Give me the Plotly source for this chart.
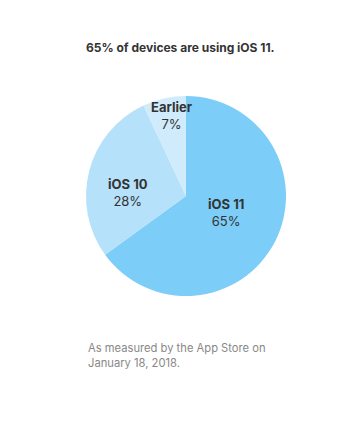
import plotly.graph_objects as go

labels = ["iOS 11", "iOS 10", "Earlier"]
values = [65, 28, 7]
colors = ["#7dcdf9", "#b6e1fa", "#d0ebfb"]
title_text = "65% of devices are using iOS 11."
footer_text = "As measured by the App Store on<br>January 18, 2018."

W, H = 356, 422
OFF = 8  # browser body margin offset

def px_x(x):
    return (x - OFF) / W

def px_y(y):
    return 1 - (y - OFF) / H

fig = go.Figure(go.Pie(
    labels=labels, values=values, sort=False, direction="clockwise", rotation=0,
    marker=dict(colors=colors, line=dict(width=0)),
    textinfo="none", hoverinfo="label+percent", showlegend=False,
    domain=dict(x=[px_x(86), px_x(286)], y=[px_y(296), px_y(96)]),
))

label_pos = {"iOS 11": (226, 213), "iOS 10": (128, 192), "Earlier": (172, 115)}
for lab, val in zip(labels, values):
    x, y = label_pos[lab]
    fig.add_annotation(
        x=px_x(x), y=px_y(y), xref="paper", yref="paper", showarrow=False,
        xanchor="center", yanchor="middle",
        text=f"<b>{lab}</b><br>{val}%", align="center",
        font=dict(family="Inter", size=13, color="#333333"),
    )

fig.add_annotation(x=px_x(180), y=px_y(47), xref="paper", yref="paper", showarrow=False,
                   xanchor="center", yanchor="middle",
                   text=f"<b>{title_text}</b>", font=dict(family="Inter", size=12, color="#333333"))
fig.add_annotation(x=px_x(86), y=px_y(355), xref="paper", yref="paper", showarrow=False,
                   xanchor="left", yanchor="middle", align="left", text=footer_text,
                   font=dict(family="Inter", size=11.2, color="#888888"))

fig.update_layout(width=W, height=H, margin=dict(l=0, r=0, t=0, b=0),
                  paper_bgcolor="white", plot_bgcolor="white")
fig.write_html("out.html")
